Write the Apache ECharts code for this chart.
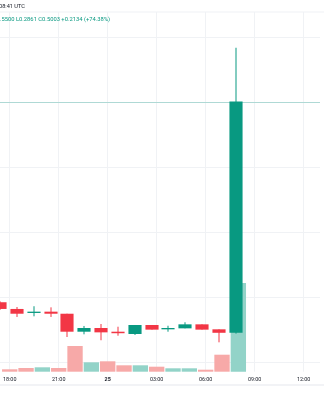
<!DOCTYPE html>
<html>
<head>
<meta charset="utf-8">
<script src="https://cdn.jsdelivr.net/npm/echarts@6/dist/echarts.min.js"></script>
<style>
html,body{margin:0;padding:0;background:#fff;}
#chart{width:324px;height:400px;}
</style>
</head>
<body>
<div id="chart"></div>
<script>
// Hourly categories (24th 18:00 -> 25th 13:00)
const categories = ['18:00','19:00','20:00','21:00','22:00','23:00','00:00','01:00','02:00','03:00','04:00','05:00','06:00','07:00','08:00','09:00','10:00','11:00','12:00','13:00'];
const tickLabels = {'18:00':'18:00','21:00':'21:00','00:00':'25','03:00':'03:00','06:00':'06:00','09:00':'09:00','12:00':'12:00'};
// Horizontal price grid levels
const priceGridLevels = [0.26, 0.32, 0.38, 0.44, 0.50, 0.56];
// OHLC values
const opens  = [0.3151,0.3089,0.3052,0.3064,0.3045,0.2879,0.2913,0.2879,0.2858,0.2941,0.2901,0.2910,0.2947,0.2901,0.2869];
const highs  = [0.3160,0.3107,0.3114,0.3104,0.3045,0.2932,0.2950,0.2925,0.2941,0.2941,0.2934,0.2966,0.2947,0.2901,0.5500];
const lows   = [0.3080,0.3015,0.3021,0.3015,0.2830,0.2855,0.2800,0.2842,0.2849,0.2898,0.2879,0.2910,0.2898,0.2781,0.2861];
const closes = [0.3089,0.3045,0.3064,0.3045,0.2879,0.2913,0.2873,0.2865,0.2941,0.2898,0.2913,0.2947,0.2898,0.2869,0.5003];
// Volume (K)
const volumes = [2.4,3.7,4.4,3.7,25.7,9.4,10.4,6.4,6.4,5.0,3.4,3.4,2.0,17.0,88.7];
const headerTime = '08:41 UTC';

const UP = '#089981', DOWN = '#f23645';
const UP_VOL = '#92d3c8', DOWN_VOL = '#f7a9a8';
const GRID_C = '#f0f2f5';

const candleData = opens.map((o,i)=>[i, o, closes[i], lows[i], highs[i]]);
const volData = volumes.map((v,i)=>({
  value: v,
  itemStyle: { color: closes[i] >= opens[i] ? UP_VOL : DOWN_VOL }
}));

const n = closes.length - 1;
const o = opens[n], h = highs[n], l = lows[n], c = closes[n];
const chg = c - o, pct = chg / o * 100;
const ohlcText = 'O' + o.toFixed(4) + ' H' + h.toFixed(4) + ' L' + l.toFixed(4) + ' C' + c.toFixed(4) +
  ' ' + (chg >= 0 ? '+' : '') + chg.toFixed(4) + ' (' + (pct >= 0 ? '+' : '') + pct.toFixed(2) + '%)';

const markData = priceGridLevels.map(v => ({ yAxis: v, lineStyle: { color: GRID_C, width: 1, type: 'solid' } }))
  .concat([{ yAxis: c, lineStyle: { color: 'rgba(8,153,129,0.28)', width: 1, type: 'solid' } }]);

function renderCandle(params, api) {
  const idx = api.value(0);
  const op = api.value(1), cl = api.value(2), lo = api.value(3), hi = api.value(4);
  const pO = api.coord([idx, op]), pC = api.coord([idx, cl]);
  const pL = api.coord([idx, lo]), pH = api.coord([idx, hi]);
  const bw = api.size([1, 0])[0] * 0.78;
  const x = Math.round(pO[0]);
  const color = cl >= op ? UP : DOWN;
  const top = Math.min(pO[1], pC[1]);
  const bh = Math.max(Math.abs(pO[1] - pC[1]), 1);
  return {
    type: 'group',
    children: [
      { type: 'line', shape: { x1: x, y1: pH[1], x2: x, y2: pL[1] },
        style: { stroke: color, lineWidth: 1 } },
      { type: 'rect', shape: { x: x - bw / 2, y: top, width: bw, height: bh },
        style: { fill: color } }
    ]
  };
}

const FONT = 'Roboto, "Noto Sans", sans-serif';
const chart = echarts.init(document.getElementById('chart'), null, {renderer:'canvas'});
chart.setOption({
  animation: false,
  backgroundColor: '#ffffff',
  grid: [
    { left: 0, right: 4, top: 12, bottom: 16.4, containLabel: false },
    { left: 0, right: 4, top: 12, bottom: 28.3, containLabel: false }
  ],
  xAxis: [
    {
      type: 'category', gridIndex: 0, data: categories, boundaryGap: false,
      axisLine: {show: false}, axisTick: {show: false}, axisLabel: {show: false},
      splitLine: {show: false}
    },
    {
      type: 'category', gridIndex: 1, data: categories, boundaryGap: false,
      axisLine: {show: false}, axisTick: {show: false},
      splitLine: {show: true, interval: 2, lineStyle: {color: GRID_C, width: 1}},
      axisLabel: {
        show: true, interval: 2, margin: 5, fontSize: 5.4, fontFamily: FONT, color: '#131722',
        formatter: function (v) {
          const t = tickLabels[v] || '';
          return t === '25' ? '{b|' + t + '}' : t;
        },
        rich: { b: { fontWeight: 'bold', fontSize: 5.4, fontFamily: FONT, color: '#131722' } }
      }
    }
  ],
  yAxis: [
    {
      type: 'value', gridIndex: 0, min: 0.24, max: 0.583, position: 'right',
      axisLine: {show: false}, axisTick: {show: false}, axisLabel: {show: false},
      splitLine: {show: false}
    },
    {
      type: 'value', gridIndex: 1, min: 0, max: 359.7,
      axisLine: {show: false}, axisTick: {show: false}, axisLabel: {show: false},
      splitLine: {show: false}
    }
  ],
  series: [
    {
      type: 'bar', xAxisIndex: 1, yAxisIndex: 1, data: volData, z: 2,
      barWidth: '94%', clip: false, silent: true
    },
    {
      type: 'custom', xAxisIndex: 0, yAxisIndex: 0, data: candleData, z: 5,
      renderItem: renderCandle, clip: false, silent: true,
      encode: { x: 0, y: [1, 2, 3, 4] },
      markLine: {
        silent: true, z: 0, symbol: ['none','none'], label: {show: false},
        lineStyle: { color: GRID_C, type: 'solid', width: 1 },
        data: markData
      }
    }
  ],
  graphic: [
    { type: 'rect', left: 0, top: 11.5, z: 0, shape: { width: 324, height: 1 }, style: { fill: GRID_C }, silent: true },
    { type: 'rect', left: 0, top: 384.5, z: 50, shape: { width: 324, height: 1 }, style: { fill: '#e6e8ee' }, silent: true },
    { type: 'text', left: -1, top: 4, z: 100, style: { text: headerTime, fontSize: 5.6, fontFamily: FONT, fill: '#131722' } },
    { type: 'text', x: 110, y: 16.3, z: 100, style: { text: ohlcText, fontSize: 5.8, fontFamily: FONT, fill: UP, textAlign: 'right' } }
  ]
});
</script>
</body>
</html>
